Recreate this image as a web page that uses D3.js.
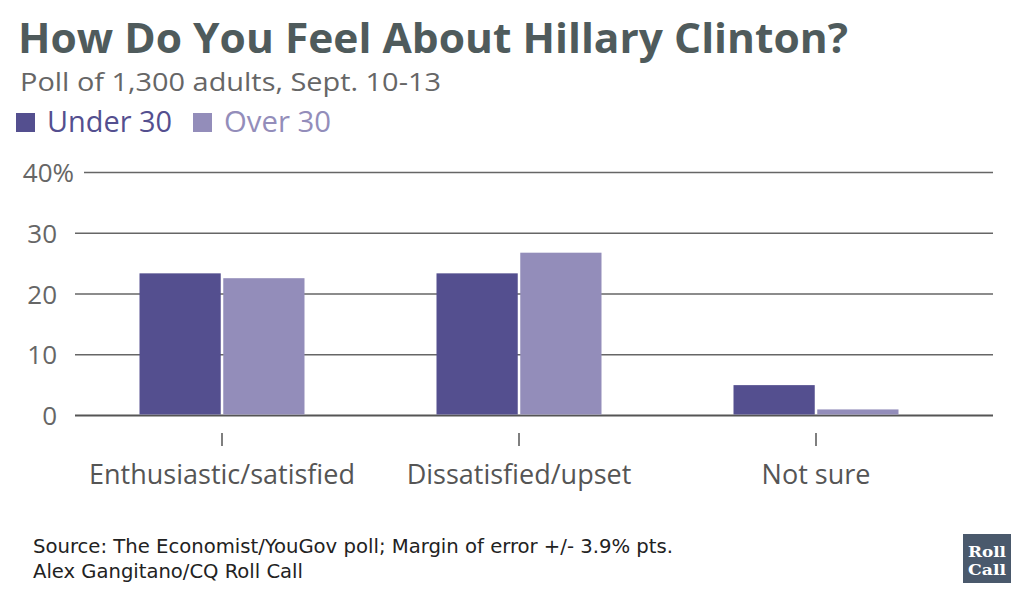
<!DOCTYPE html>
<html>
<head>
<meta charset="utf-8">
<script src="https://cdn.jsdelivr.net/npm/d3@7"></script>
<style>
  body { margin: 0; background: #fff; }
  svg { display: block; }
</style>
</head>
<body>
<script>
// chart data
var categories = ['Enthusiastic/satisfied', 'Dissatisfied/upset', 'Not sure'];
var seriesNames = ['Under 30', 'Over 30'];
var under30 = [23.4, 23.4, 5];
var over30 = [22.6, 26.8, 1];
var yTicks = [0, 10, 20, 30, 40];
var colors = ['#544f8f', '#938dba'];

var W = 1024, H = 592;

var svg = d3.select('body').append('svg')
  .attr('width', W)
  .attr('height', H);

// ---------- titles ----------
svg.append('text')
  .attr('x', 18).attr('y', 53)
  .attr('font-family', 'Open Sans').attr('font-weight', 700)
  .attr('font-size', 42).attr('fill', '#4f5b5c')
  .attr('textLength', 830).attr('lengthAdjust', 'spacingAndGlyphs')
  .text('How Do You Feel About Hillary Clinton?');

svg.append('text')
  .attr('x', 20).attr('y', 90.5)
  .attr('font-family', 'Open Sans')
  .attr('font-size', 26).attr('fill', '#666')
  .attr('textLength', 421).attr('lengthAdjust', 'spacingAndGlyphs')
  .text('Poll of 1,300 adults, Sept. 10-13');

// legend
var legendX = [16, 193];
var legendW = [125, 107];
seriesNames.forEach(function(name, i) {
  svg.append('rect')
    .attr('x', legendX[i]).attr('y', 113)
    .attr('width', 19).attr('height', 19)
    .attr('fill', colors[i]);
  svg.append('text')
    .attr('x', legendX[i] + 31).attr('y', 132)
    .attr('font-family', 'Open Sans')
    .attr('font-size', 30).attr('fill', colors[i])
    .attr('textLength', legendW[i]).attr('lengthAdjust', 'spacingAndGlyphs')
    .text(name);
});

// ---------- scales ----------
var y = d3.scaleLinear().domain([0, 40]).range([415.5, 172.5]);
var x0 = d3.scaleBand().domain(categories).range([73.5, 964.5]);
var x1 = d3.scaleBand().domain(seriesNames).range([0, 165]).paddingInner(0.03);

// gridlines
var grid = svg.append('g');
grid.selectAll('line')
  .data(yTicks)
  .enter()
  .append('line')
  .attr('x1', function(d) { return d === 40 ? 84 : 75; })
  .attr('x2', 993)
  .attr('y1', function(d) { return y(d); })
  .attr('y2', function(d) { return y(d); })
  .attr('stroke', function(d) { return d === 0 ? '#555' : '#666'; })
  .attr('stroke-width', function(d) { return d === 0 ? 2 : 1.3; });

// y labels
svg.selectAll('.ylab')
  .data(yTicks)
  .enter()
  .append('text')
  .attr('class', 'ylab')
  .attr('x', function(d) { return d === 40 ? 74 : 57; })
  .attr('y', function(d) { return y(d) + 9.5; })
  .attr('text-anchor', 'end')
  .attr('font-family', 'Open Sans')
  .attr('font-size', 26).attr('fill', '#666')
  .text(function(d) { return d === 40 ? '40%' : d; });

// ---------- bars ----------
var groups = svg.selectAll('.grp')
  .data(categories)
  .enter()
  .append('g')
  .attr('class', 'grp')
  .attr('transform', function(d) {
    return 'translate(' + (x0(d) + x0.bandwidth() / 2 - 82.5) + ',0)';
  });

groups.selectAll('rect')
  .data(function(d, i) {
    return [
      { s: seriesNames[0], v: under30[i], c: colors[0] },
      { s: seriesNames[1], v: over30[i], c: colors[1] }
    ];
  })
  .enter()
  .append('rect')
  .attr('x', function(d) { return x1(d.s); })
  .attr('width', x1.bandwidth())
  .attr('y', function(d) { return y(d.v); })
  .attr('height', function(d) { return y(0) - y(d.v) - 1; })
  .attr('fill', function(d) { return d.c; });

// ---------- x axis ticks + labels ----------
svg.selectAll('.xtick')
  .data(categories)
  .enter()
  .append('line')
  .attr('class', 'xtick')
  .attr('x1', function(d) { return x0(d) + x0.bandwidth() / 2; })
  .attr('x2', function(d) { return x0(d) + x0.bandwidth() / 2; })
  .attr('y1', 433).attr('y2', 446)
  .attr('stroke', '#555').attr('stroke-width', 1.5);

svg.selectAll('.xlab')
  .data(categories)
  .enter()
  .append('text')
  .attr('class', 'xlab')
  .attr('x', function(d) { return x0(d) + x0.bandwidth() / 2; })
  .attr('y', 484)
  .attr('text-anchor', 'middle')
  .attr('font-family', 'Open Sans')
  .attr('font-size', 27).attr('fill', '#555')
  .text(function(d) { return d; });

// ---------- footer ----------
svg.append('text')
  .attr('x', 33).attr('y', 553)
  .attr('font-family', 'Liberation Sans Narrow, DejaVu Sans Condensed, sans-serif')
  .attr('font-size', 20).attr('fill', '#222')
  .attr('textLength', 640).attr('lengthAdjust', 'spacingAndGlyphs')
  .text('Source: The Economist/YouGov poll; Margin of error +/- 3.9% pts.');

svg.append('text')
  .attr('x', 33).attr('y', 578)
  .attr('font-family', 'Liberation Sans Narrow, DejaVu Sans Condensed, sans-serif')
  .attr('font-size', 20).attr('fill', '#222')
  .attr('textLength', 270).attr('lengthAdjust', 'spacingAndGlyphs')
  .text('Alex Gangitano/CQ Roll Call');

// Roll Call logo
svg.append('rect')
  .attr('x', 963).attr('y', 534)
  .attr('width', 48).attr('height', 49)
  .attr('fill', '#4a596c');
['Roll', 'Call'].forEach(function(t, i) {
  svg.append('text')
    .attr('x', 987).attr('y', 557 + i * 18)
    .attr('text-anchor', 'middle')
    .attr('font-family', 'DejaVu Serif, Liberation Serif, serif')
    .attr('font-weight', 700)
    .attr('font-size', 15).attr('fill', '#fff')
    .attr('textLength', 38).attr('lengthAdjust', 'spacingAndGlyphs')
    .text(t);
});
</script>
</body>
</html>
